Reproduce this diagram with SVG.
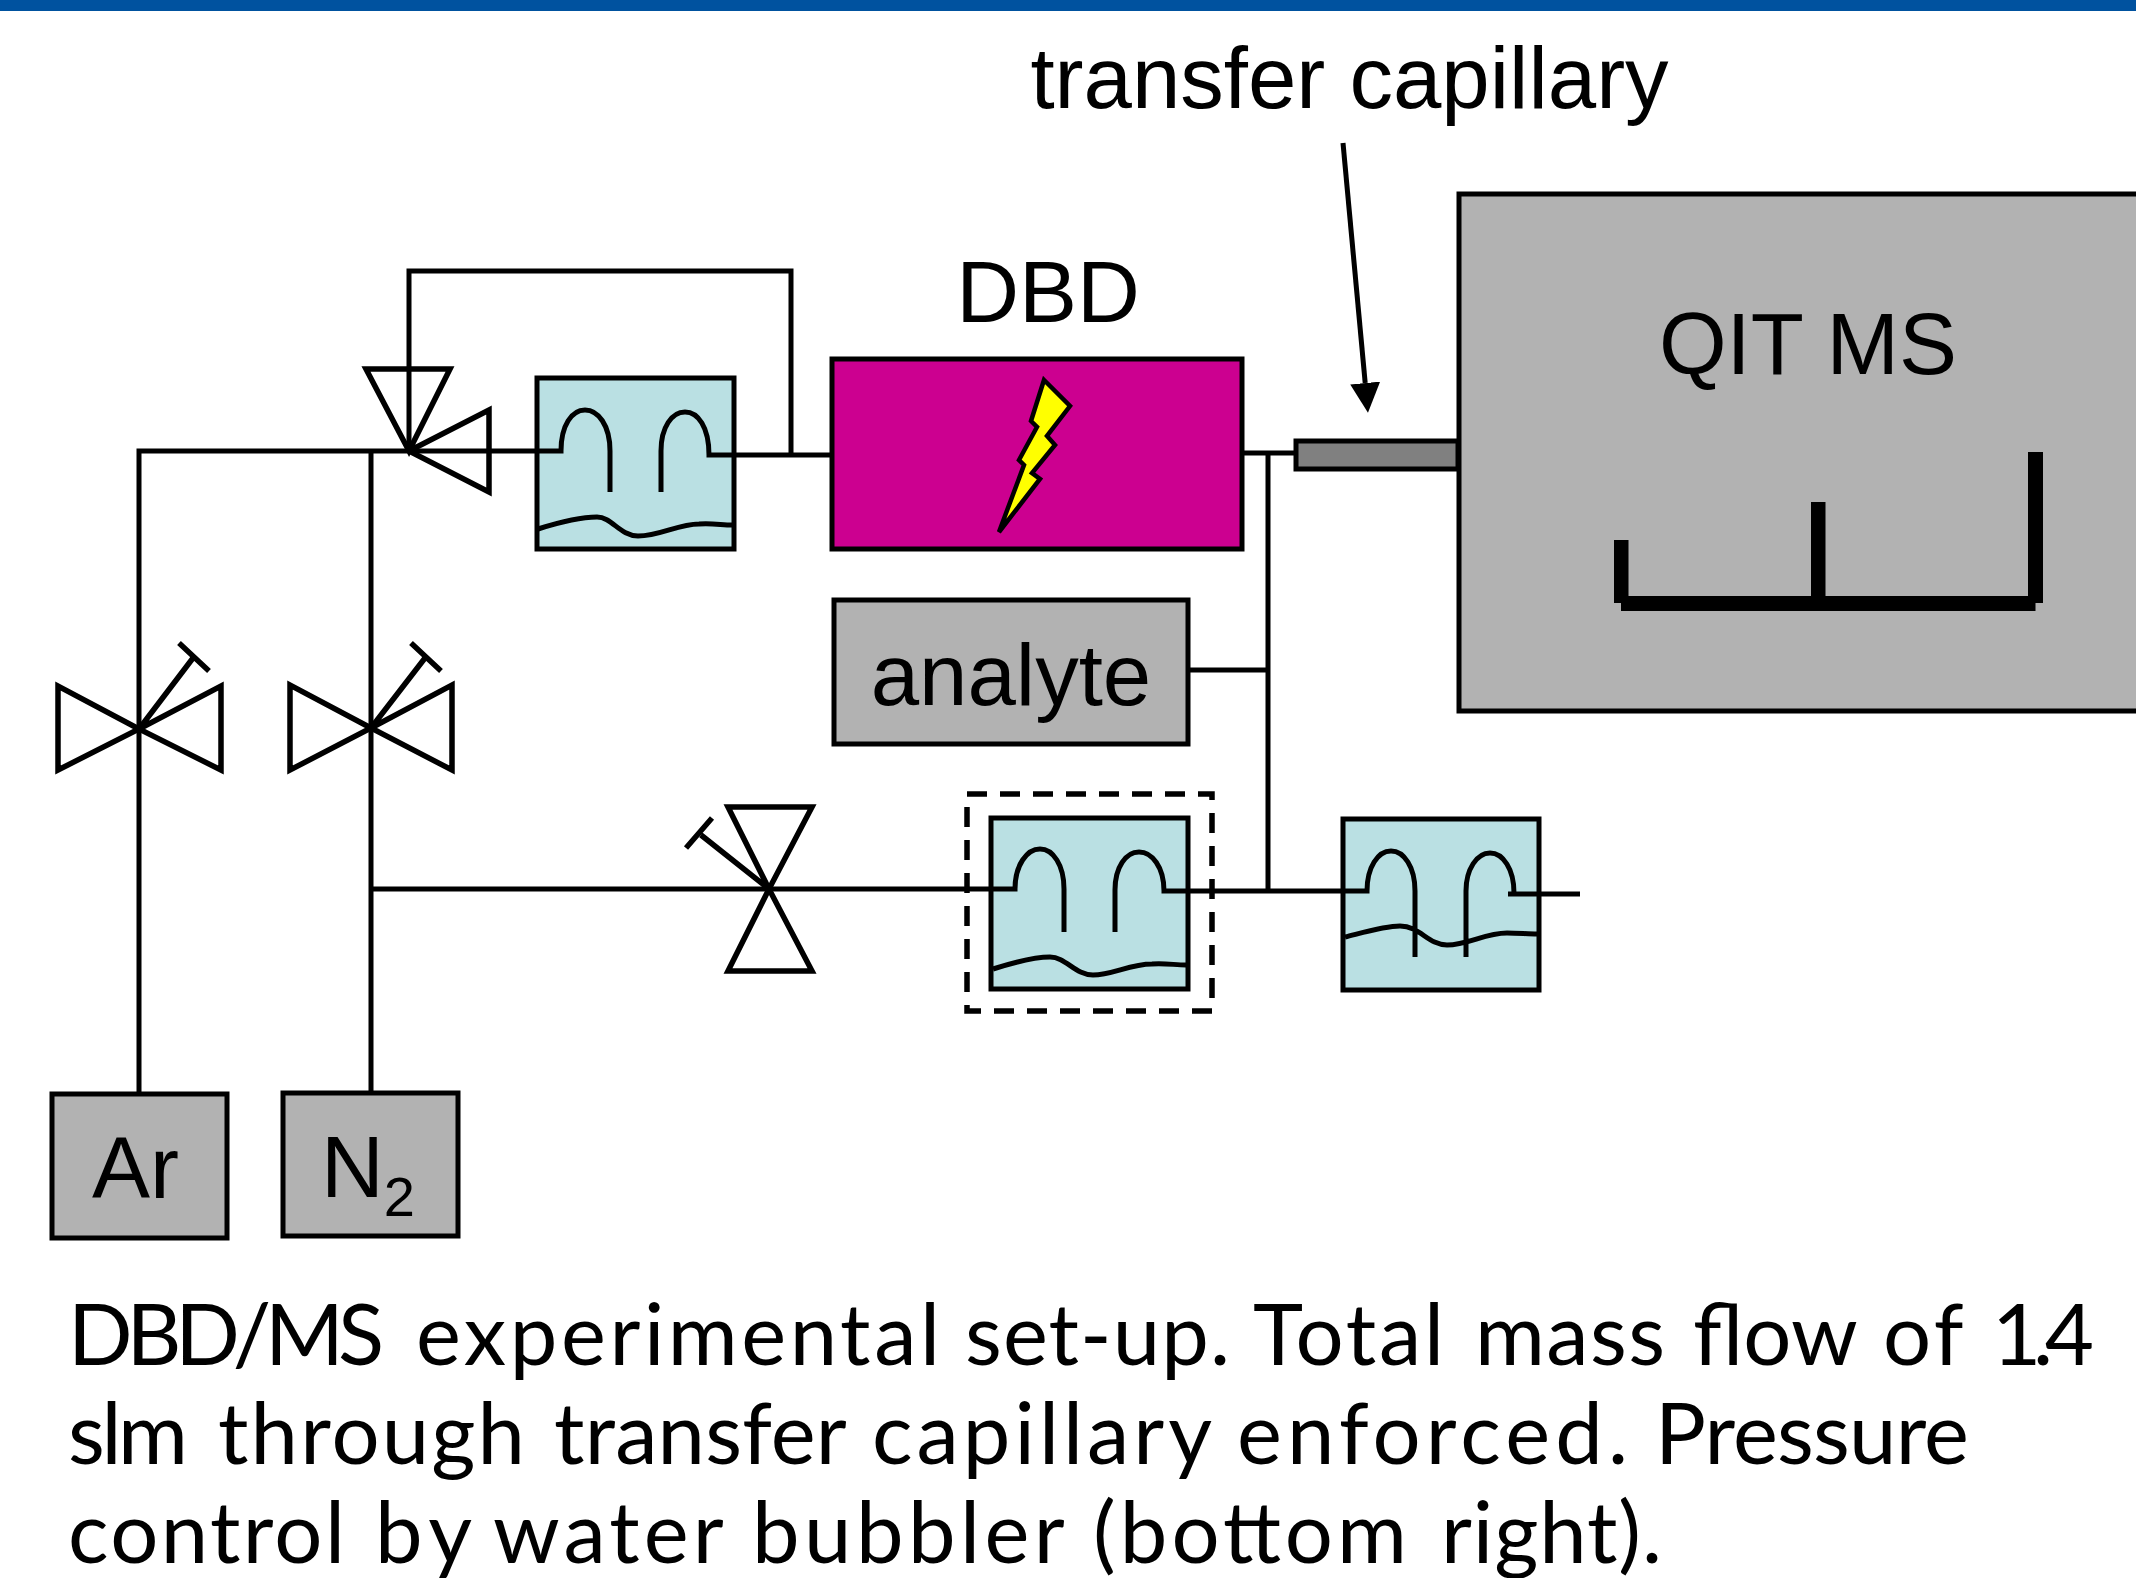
<svg xmlns="http://www.w3.org/2000/svg" width="2136" height="1578" viewBox="0 0 2136 1578">
<style>
.l{fill:none;stroke:#000;stroke-width:5}
.v{fill:none;stroke:#000;stroke-width:5.5}
.b{fill:#BAE0E3;stroke:#000;stroke-width:5}
.g{fill:#B2B2B2;stroke:#000;stroke-width:5}
.t{font-family:"Liberation Sans",Arial,sans-serif;font-size:87px;fill:#000}
.c{font-family:"Lato","Noto Sans",sans-serif;font-size:85px;font-weight:400;fill:#000}
</style>
<defs><marker id="ah" markerUnits="userSpaceOnUse" markerWidth="32" markerHeight="32" refX="0" refY="15" orient="auto"><path d="M0 0L30 15L0 30z" fill="#000"/></marker></defs>
<rect id="topbar" x="0" y="0" width="2136" height="11" fill="#00529F"/>
<g id="connectors">
<path class="l" d="M139 1094V451H537M371 451V1092M409 451V271H791V455M734 455H832M1242 453H1296M1268 453V890M1188 670H1268M371 889H991M1188 891H1343"/>
<path class="l" d="M1343 143L1365.200 383" marker-end="url(#ah)"/>
</g>
<g id="valve-t"><path class="v" d="M409 451L366 369H450zM409 451L489 410V492z"/></g>
<g id="valve-1"><path class="v" d="M139 729L58 686V770zM139 729L221 686V770zM139 729L193 658M179 643L209 671"/></g>
<g id="valve-2"><path class="v" d="M371 728L290 685V770zM371 728L452 685V770zM371 728L425 658M411 643L441 671"/></g>
<g id="valve-3"><path class="v" d="M769 889L728 807H812zM769 889L728 971H812zM769 889L701 835M686 848L712 818"/></g>
<g id="bubbler-1"><rect class="b" x="537" y="378" width="197" height="171"/>
<path class="l" d="M537 451H561C561 425 572 410 585 410C598 410 610 425 610 451V492M661 492V451C661 427 672 412 685 412C698 412 709 427 709 455H734M538 529C560 522 580 517 597 517C612 517 620 536 638 536C660 536 678 524 699 524C712 523 722 525 732 525"/></g>
<g id="dbd"><rect x="832" y="359" width="410" height="190" fill="#CC0090" stroke="#000" stroke-width="5"/>
<path d="M1044 380L1070 406L1047 436L1055 445L1032 473L1040 479L999 532L1024 465L1019 460L1037 427L1031 421z" fill="#FF0" stroke="#000" stroke-width="4.5"/>
<text class="t" x="1048" y="322" text-anchor="middle">DBD</text></g>
<g id="capillary"><rect x="1296" y="441" width="162" height="28" fill="#808080" stroke="#000" stroke-width="5"/>
<text class="t" x="1349.5" y="108" text-anchor="middle">transfer capillary</text></g>
<g id="qit"><rect class="g" x="1459" y="194" width="690" height="517"/>
<text class="t" x="1808" y="374" text-anchor="middle">QIT MS</text>
<path d="M1614 540h14.500v63h-14.500zM1811 502h14.500v101h-14.500zM2028 452h15v151h-15zM1621 596h414.500v15h-414.500z" fill="#000"/></g>
<g id="analyte"><rect class="g" x="834" y="600" width="354" height="144"/><text class="t" x="1011" y="705" text-anchor="middle">analyte</text></g>
<g id="bubbler-2"><rect x="967" y="794" width="245" height="217" fill="none" stroke="#000" stroke-width="5.500" stroke-dasharray="20 13"/><rect class="b" x="991" y="818" width="197" height="171"/>
<path class="l" d="M991 889H1015C1015 865 1027 849 1040 849C1053 849 1064 865 1064 889V932M1115 932V890C1115 867 1126 852 1139 852C1152 852 1164 867 1164 891H1188M993 969C1015 962 1035 957 1050 957C1066 957 1075 975 1093 975C1112 975 1130 964 1152 964C1165 963 1175 965 1186 965"/></g>
<g id="bubbler-3"><rect class="b" x="1343" y="819" width="196" height="171"/>
<path class="l" d="M1343 891H1367C1367 867 1378 851 1391 851C1404 851 1415 867 1415 891V957M1466 957V891C1466 869 1477 853 1490 853C1503 853 1514 869 1514 893M1508 894H1580M1345 937C1365 932 1385 926 1400 926C1420 926 1428 945 1447 945C1468 945 1485 933 1507 933C1518 933 1528 934 1537 934"/></g>
<g id="ar"><rect class="g" x="52" y="1094" width="175" height="144"/><text class="t" x="92" y="1198">Ar</text></g>
<g id="n2"><rect class="g" x="283" y="1093" width="175" height="143"/><text class="t" x="321" y="1197">N<tspan font-size="56" dy="19">2</tspan></text></g>
<g id="caption">
<text class="c" y="1365"><tspan x="68" textLength="316">DBD/MS</tspan> <tspan x="416" textLength="524">experimental</tspan> <tspan x="965" textLength="265">set-up.</tspan> <tspan x="1253" textLength="191">Total</tspan> <tspan x="1475" textLength="190">mass</tspan> <tspan x="1693" textLength="163">flow</tspan> <tspan x="1883" textLength="79">of</tspan> <tspan x="1992" textLength="102">1.4</tspan></text>
<text class="c" y="1464"><tspan x="68" textLength="120">slm</tspan> <tspan x="218" textLength="307">through</tspan> <tspan x="554" textLength="291">transfer</tspan> <tspan x="872" textLength="338">capillary</tspan> <tspan x="1237" textLength="391">enforced.</tspan> <tspan x="1655" textLength="314">Pressure</tspan></text>
<text class="c" y="1563"><tspan x="68" textLength="277">control</tspan> <tspan x="375" textLength="95">by</tspan> <tspan x="493" textLength="229">water</tspan> <tspan x="752" textLength="311">bubbler</tspan> <tspan x="1093" textLength="314">(bottom</tspan> <tspan x="1441" textLength="221">right).</tspan></text>
</g>
</svg>
